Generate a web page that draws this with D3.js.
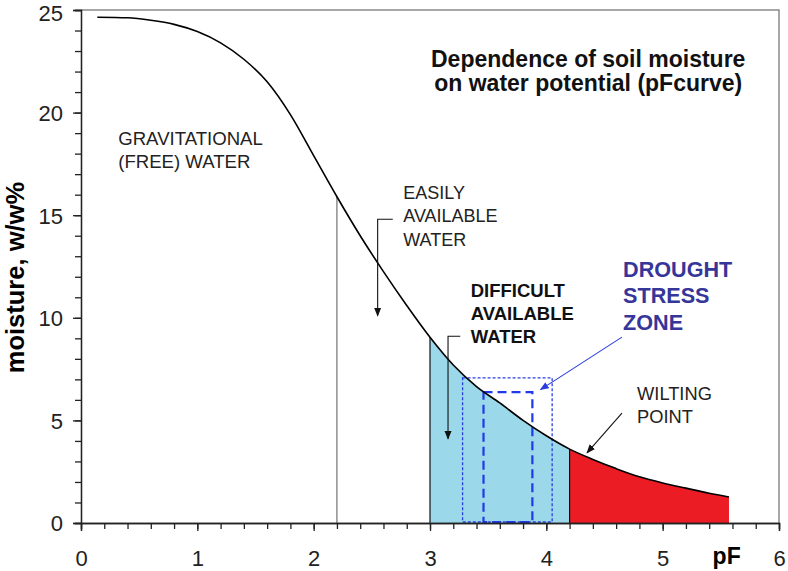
<!DOCTYPE html>
<html>
<head>
<meta charset="utf-8">
<script src="https://cdn.jsdelivr.net/npm/d3@7"></script>
<style>
  body { margin: 0; background: #fff; }
  svg { font-family: "Liberation Sans", Arial, sans-serif; }
</style>
</head>
<body>
<svg id="chart" width="788" height="571"></svg>
<script>
// pF curve
const pF = [0.14, 0.4, 0.6, 0.8, 1.0, 1.2, 1.4, 1.6, 1.8, 2.0, 2.2, 2.4, 2.6, 2.8,
            3.0, 3.2, 3.4, 3.6, 3.8, 4.0, 4.2, 4.4, 4.6, 4.8, 5.0, 5.2, 5.4, 5.57];
const moisture = [24.65, 24.62, 24.5, 24.3, 23.95, 23.4, 22.6, 21.5, 19.9, 17.9, 15.9, 14.0, 12.25, 10.6,
                  9.05, 7.7, 6.65, 5.85, 5.0, 4.25, 3.6, 3.1, 2.65, 2.25, 1.95, 1.7, 1.45, 1.27];

const xTicks = [0, 1, 2, 3, 4, 5, 6];
const yTicks = [0, 5, 10, 15, 20, 25];

const gravityLimit = 2.2;          // vertical line
const difficultRange = [3.0, 4.2]; // blue area
const wiltingRange = [4.2, 5.57];  // red area
const outerZone = [3.28, 4.05, 7.07]; // dotted box: pF from, pF to, moisture top
const innerZone = [3.46, 3.88, 6.38]; // dashed box

const width = 788, height = 571;
const margin = { top: 10, right: 9, bottom: 48, left: 81 };

const svg = d3.select("#chart");
const x = d3.scaleLinear().domain([0, 6]).range([margin.left, width - margin.right]);
const y = d3.scaleLinear().domain([0, 25]).range([height - margin.bottom, margin.top]);

const data = pF.map((p, i) => ({ p, m: moisture[i] }));
const inRange = r => data.filter(d => d.p >= r[0] - 1e-9 && d.p <= r[1] + 1e-9);

// frame (top + right)
svg.append("path")
  .attr("d", `M${x(0)},${y(25)}H${x(6)}V${y(0)}`)
  .attr("fill", "none").attr("stroke", "#8a8a8a").attr("stroke-width", 1.5);

const area = d3.area().x(d => x(d.p)).y0(y(0)).y1(d => y(d.m)).curve(d3.curveMonotoneX);

svg.append("path").datum(inRange(difficultRange)).attr("d", area).attr("fill", "#9bd8ea");
svg.append("path").datum(inRange(wiltingRange)).attr("d", area).attr("fill", "#ec1c24");

// left edges of the areas
const curveAt = p => moisture[pF.indexOf(p)];
[gravityLimit, difficultRange[0], wiltingRange[0]].forEach((p, i) => {
  svg.append("line")
    .attr("x1", x(p)).attr("x2", x(p))
    .attr("y1", y(0)).attr("y2", y(curveAt(p)))
    .attr("stroke", i === 0 ? "#555" : "#111").attr("stroke-width", i === 0 ? 1 : 1.2);
});

// drought stress boxes
svg.append("rect")
  .attr("x", x(outerZone[0])).attr("width", x(outerZone[1]) - x(outerZone[0]))
  .attr("y", y(outerZone[2])).attr("height", y(0) - y(outerZone[2]) - 1)
  .attr("fill", "none").attr("stroke", "#2a3ee0").attr("stroke-width", 1.3)
  .attr("stroke-dasharray", "3,2");
svg.append("rect")
  .attr("x", x(innerZone[0])).attr("width", x(innerZone[1]) - x(innerZone[0]))
  .attr("y", y(innerZone[2])).attr("height", y(0) - y(innerZone[2]) - 1)
  .attr("fill", "none").attr("stroke", "#1f3ae8").attr("stroke-width", 2.2)
  .attr("stroke-dasharray", "9,5");

// curve
svg.append("path").datum(data)
  .attr("d", d3.line().x(d => x(d.p)).y(d => y(d.m)).curve(d3.curveMonotoneX))
  .attr("fill", "none").attr("stroke", "#000").attr("stroke-width", 1.6);

// axes
const yMinor = d3.axisLeft(y).tickValues(d3.range(0, 26)).tickSize(6).tickFormat("");
const yMajor = d3.axisLeft(y).tickValues(yTicks).tickSize(8).tickPadding(10).tickFormat(d3.format("d"));
const xMinor = d3.axisBottom(x).tickValues(d3.range(0, 30.5).map(v => v / 5)).tickSize(6).tickFormat("");
const xMajor = d3.axisBottom(x).tickValues(xTicks).tickSize(8).tickPadding(19).tickFormat(d3.format("d"));

function styleAxis(g) {
  g.selectAll("path, line").attr("stroke", "#222").attr("stroke-width", 1.3);
  g.selectAll("text").attr("fill", "#222").style("font-size", "22px");
}
svg.append("g").attr("transform", `translate(${margin.left},0)`).call(yMinor).call(styleAxis);
svg.append("g").attr("transform", `translate(${margin.left},0)`).call(yMajor).call(styleAxis)
  .selectAll("text").attr("dy", d => d === 25 ? "0.46em" : "0.36em");
svg.append("g").attr("transform", `translate(0,${height - margin.bottom})`).call(xMinor).call(styleAxis);
svg.append("g").attr("transform", `translate(0,${height - margin.bottom})`).call(xMajor).call(styleAxis);

// axis titles
svg.append("text")
  .attr("transform", `translate(24,${y(11.96)}) rotate(-90)`)
  .attr("text-anchor", "middle")
  .style("font-size", "25.5px").style("font-weight", "bold")
  .text("moisture, w/w%");
svg.append("text")
  .attr("x", x(5.55)).attr("y", y(0) + 41)
  .attr("text-anchor", "middle")
  .style("font-size", "23px").style("font-weight", "bold")
  .text("pF");

// arrows
const defs = svg.append("defs");
function marker(id, color) {
  defs.append("marker").attr("id", id)
    .attr("viewBox", "0 0 10 10").attr("refX", 9).attr("refY", 5)
    .attr("markerWidth", 9).attr("markerHeight", 9).attr("orient", "auto")
    .attr("markerUnits", "userSpaceOnUse")
    .append("path").attr("d", "M0,1L10,5L0,9z").attr("fill", color);
}
marker("arrBlack", "#111");
marker("arrBlue", "#2a3ee0");

const arrows = [
  { pts: [[2.68, 14.8], [2.55, 14.8], [2.55, 10.1]], color: "#111", m: "arrBlack" },
  { pts: [[3.26, 9.1], [3.155, 9.1], [3.155, 4.1]], color: "#111", m: "arrBlack" },
  { pts: [[4.65, 9.06], [3.95, 6.5]], color: "#2a3ee0", m: "arrBlue" },
  { pts: [[4.65, 5.36], [4.35, 3.42]], color: "#111", m: "arrBlack" }
];
const arrowLine = d3.line().x(d => x(d[0])).y(d => y(d[1]));
arrows.forEach(a => {
  svg.append("path").attr("d", arrowLine(a.pts))
    .attr("fill", "none").attr("stroke", a.color).attr("stroke-width", 1.1)
    .attr("marker-end", `url(#${a.m})`);
});

// labels
const labels = [
  { p: 4.36, m: 22.22, lines: ["Dependence of soil moisture", "on water potential (pFcurve)"], size: 23, bold: true, color: "#111", anchor: "middle", lh: 23.5 },
  { p: 0.32, m: 18.42, lines: ["GRAVITATIONAL", "(FREE) WATER"], size: 18.6, color: "#222", lh: 23 },
  { p: 2.77, m: 15.79, lines: ["EASILY", "AVAILABLE", "WATER"], size: 18, color: "#222", lh: 23.5 },
  { p: 3.35, m: 11.01, lines: ["DIFFICULT", "AVAILABLE", "WATER"], size: 18.5, bold: true, color: "#111", lh: 23 },
  { p: 4.66, m: 11.99, lines: ["DROUGHT", "STRESS", "ZONE"], size: 21.6, bold: true, color: "#35359a", lh: 26.5 },
  { p: 4.78, m: 5.99, lines: ["WILTING", "POINT"], size: 18.3, color: "#222", lh: 23 }
];
labels.forEach(l => {
  const t = svg.append("text")
    .attr("x", x(l.p)).attr("y", y(l.m))
    .attr("text-anchor", l.anchor || "start")
    .attr("fill", l.color)
    .style("font-size", l.size + "px")
    .style("font-weight", l.bold ? "bold" : "normal");
  l.lines.forEach((s, i) => {
    t.append("tspan").attr("x", x(l.p)).attr("dy", i === 0 ? 0 : l.lh).text(s);
  });
});
</script>
</body>
</html>
